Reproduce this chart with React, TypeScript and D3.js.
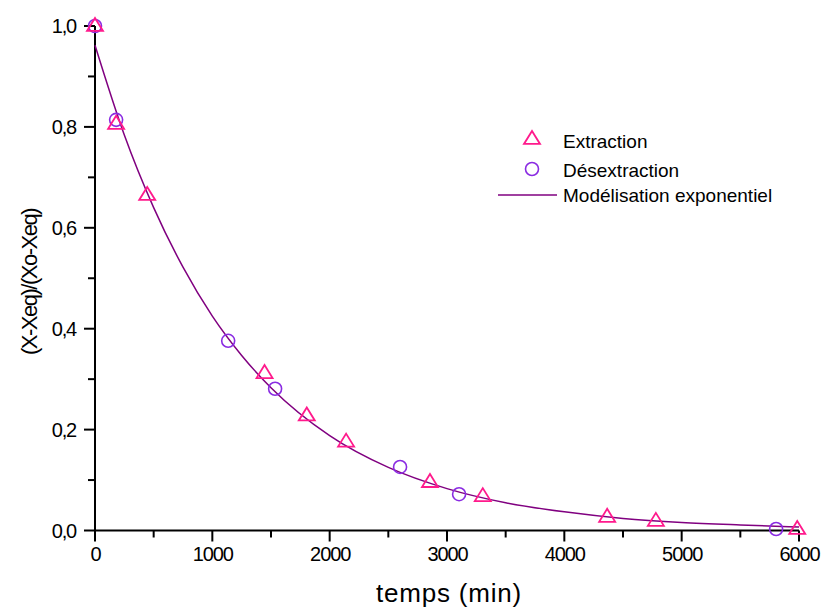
import React from "react";
import * as d3 from "d3";

const extractionT = [0, 180, 445, 1445, 1805, 2140, 2855, 3305, 4365, 4780, 5985];
const extractionY = [1.0, 0.806, 0.665, 0.312, 0.228, 0.176, 0.096, 0.068, 0.027, 0.019, 0.003];
const desextractionT = [0, 180, 1135, 1535, 2600, 3103, 5805];
const desextractionY = [1.0, 0.814, 0.376, 0.281, 0.126, 0.072, 0.003];
const modelT = [0, 250, 500, 750, 1000, 1250, 1500, 2000, 2500, 3000, 3500, 4000, 4500, 5000, 5500, 6000];
const modelY = [0.962, 0.784, 0.64, 0.522, 0.425, 0.347, 0.283, 0.188, 0.125, 0.083, 0.055, 0.037, 0.024, 0.016, 0.011, 0.007];
const xTicks = [0, 1000, 2000, 3000, 4000, 5000, 6000];
const xMinor = [500, 1500, 2500, 3500, 4500, 5500];
const yTicks = [0, 0.2, 0.4, 0.6, 0.8, 1.0];
const yMinor = [0.1, 0.3, 0.5, 0.7, 0.9];
const legendLabels = ["Extraction", "Désextraction", "Modélisation exponentiel"];

const PINK = "#ff1a8c";
const VIOLET = "#8a2be2";
const LINE = "#800080";
const FONT = "Liberation Sans, Arial, sans-serif";

export default function App() {
  const x = d3.scaleLinear().domain([0, 6000]).range([95, 799]);
  const y = d3.scaleLinear().domain([0, 1]).range([530.5, 26]);
  const fmtY = (v: number) => v.toFixed(1).replace(".", ",");
  const line = d3
    .line<number>()
    .x((_, i) => x(modelT[i]))
    .y((d) => y(d))
    .curve(d3.curveMonotoneX);
  const tri = (cx: number, cy: number) => {
    const w = 8, h = 13;
    return `M${cx},${cy - h * 0.62}L${cx + w},${cy + h * 0.38}L${cx - w},${cy + h * 0.38}Z`;
  };
  return (
    <svg width={824} height={610} style={{ position: "absolute", left: 0, top: 0 }} fontFamily={FONT}>
      <rect width={824} height={610} fill="#fff" />
      {/* axes */}
      <line x1={95} x2={95} y1={y(1)} y2={y(0)} stroke="#000" strokeWidth={2} />
      <line x1={x(0)} x2={x(6000)} y1={y(0)} y2={y(0)} stroke="#000" strokeWidth={2} />
      {yTicks.map((t) => (
        <g key={"yt" + t}>
          <line x1={84} x2={95} y1={y(t)} y2={y(t)} stroke="#000" strokeWidth={2} />
          <text x={76} y={y(t) + 7} textAnchor="end" fontSize={20} letterSpacing={-1.2}>
            {fmtY(t)}
          </text>
        </g>
      ))}
      {yMinor.map((t) => (
        <line key={"ym" + t} x1={88} x2={95} y1={y(t)} y2={y(t)} stroke="#000" strokeWidth={2} />
      ))}
      {xTicks.map((t) => (
        <g key={"xt" + t}>
          <line x1={x(t)} x2={x(t)} y1={y(0)} y2={y(0) + 11} stroke="#000" strokeWidth={2} />
          <text x={x(t) + 0.5} y={560.5} textAnchor="middle" fontSize={20} letterSpacing={-1.1}>
            {t}
          </text>
        </g>
      ))}
      {xMinor.map((t) => (
        <line key={"xm" + t} x1={x(t)} x2={x(t)} y1={y(0)} y2={y(0) + 7} stroke="#000" strokeWidth={2} />
      ))}
      {/* titles */}
      <text x={449} y={601.5} textAnchor="middle" fontSize={26} letterSpacing={0.8}>
        temps (min)
      </text>
      <text transform="translate(37,282) rotate(-90)" textAnchor="middle" fontSize={22} letterSpacing={-1.5}>
        (X-Xeq)/(Xo-Xeq)
      </text>
      {/* model line */}
      <path d={line(modelY) || ""} fill="none" stroke={LINE} strokeWidth={1.5} />
      {/* markers */}
      {desextractionT.map((t, i) => (
        <circle key={"c" + i} cx={x(t)} cy={y(desextractionY[i])} r={6.5} fill="none" stroke={VIOLET} strokeWidth={1.6} />
      ))}
      {extractionT.map((t, i) => (
        <path key={"t" + i} d={tri(x(t), y(extractionY[i]))} fill="none" stroke={PINK} strokeWidth={1.8} />
      ))}
      {/* legend */}
      <path d={tri(532, 139)} fill="none" stroke={PINK} strokeWidth={1.8} />
      <circle cx={532} cy={169} r={6.5} fill="none" stroke={VIOLET} strokeWidth={1.6} />
      <line x1={498} x2={557} y1={195} y2={195} stroke={LINE} strokeWidth={1.5} />
      {legendLabels.map((l, i) => (
        <text key={l} x={563} y={[148, 177, 202][i]} fontSize={19}>
          {l}
        </text>
      ))}
    </svg>
  );
}
